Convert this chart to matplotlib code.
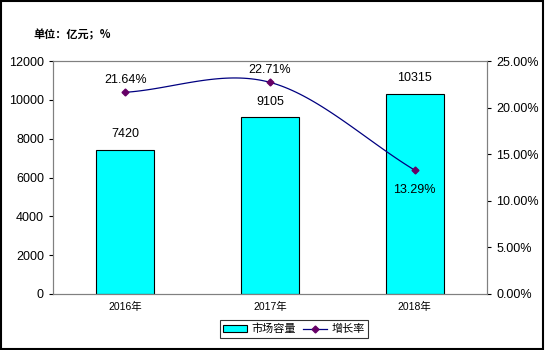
import matplotlib
matplotlib.use("Agg")
import matplotlib.pyplot as plt
import numpy as np
from matplotlib.lines import Line2D
from matplotlib.patches import Patch

plt.rcParams['font.family'] = ['Liberation Sans', 'Noto Sans CJK SC', 'DejaVu Sans']

years = ["2016年", "2017年", "2018年"]
capacity = [7420, 9105, 10315]          # 市场容量（亿元）
growth = [21.64, 22.71, 13.29]          # 增长率（%）


def smooth_curve(x, y, n=40):
    # Catmull-Rom style smoothing through the points
    x = np.asarray(x, float)
    y = np.asarray(y, float)
    px = np.concatenate([[2 * x[0] - x[1]], x, [2 * x[-1] - x[-2]]])
    py = np.concatenate([[2 * y[0] - y[1]], y, [2 * y[-1] - y[-2]]])
    xs, ys = [], []
    for i in range(1, len(px) - 2):
        t = np.linspace(0, 1, n)
        for arr, out in ((px, xs), (py, ys)):
            p0, p1, p2, p3 = arr[i - 1], arr[i], arr[i + 1], arr[i + 2]
            out.extend(0.5 * ((2 * p1) + (-p0 + p2) * t
                              + (2 * p0 - 5 * p1 + 4 * p2 - p3) * t ** 2
                              + (-p0 + 3 * p1 - 3 * p2 + p3) * t ** 3))
    return np.array(xs), np.array(ys)


fig = plt.figure(figsize=(5.45, 3.5), dpi=100)
ax = fig.add_axes([53 / 545, 1 - 294 / 350, 434 / 545, 233 / 350])
x = np.arange(len(years))

ax.bar(x, capacity, width=0.4, color="#00FFFF", edgecolor="black", linewidth=0.8, zorder=2)
for xi, v in zip(x, capacity):
    ax.text(xi, v + 500, str(v), ha="center", va="bottom", fontsize=9)

ax.set_xlim(-0.5, 2.5)
ax.set_ylim(0, 12000)
ax.set_yticks(range(0, 12001, 2000))
ax.set_xticks(x)
ax.set_xticklabels(years, fontsize=7.5)
ax.tick_params(axis="y", labelsize=9, direction="out", length=3)
ax.tick_params(axis="x", length=0, pad=6)
for s in ax.spines.values():
    s.set_color("#808080")
    s.set_linewidth(0.8)

ax2 = ax.twinx()
ax2.set_ylim(0, 25)
ax2.set_yticks(np.arange(0, 25.1, 5))
ax2.set_yticklabels([f"{v:.2f}%" for v in np.arange(0, 25.1, 5)])
ax2.tick_params(axis="y", labelsize=9, direction="out", length=3)
for s in ax2.spines.values():
    s.set_color("#808080")
    s.set_linewidth(0.8)

sx, sy = smooth_curve(x, growth)
ax2.plot(sx, sy, color="#000080", linewidth=0.9, zorder=3)
ax2.plot(x, growth, linestyle="none", marker="D", markersize=3.5,
         color="#660066", zorder=4)
offsets = [(0, 9), (0, 9), (0, -14)]
for xi, g, (dx, dy) in zip(x, growth, offsets):
    ax2.annotate(f"{g:.2f}%", (xi, g), xytext=(dx, dy), textcoords="offset points",
                 ha="center", va="center", fontsize=9)

fig.text(33 / 545, 1 - 35 / 350, "单位：亿元；%", fontsize=8, fontweight="bold", va="center",
         family=["Noto Sans CJK SC", "DejaVu Sans"])

handles = [Patch(facecolor="#00FFFF", edgecolor="black", linewidth=0.8),
           Line2D([0], [0], color="#000080", linewidth=0.9, marker="D",
                  markersize=3.5, markerfacecolor="#660066", markeredgecolor="#660066")]
leg = fig.legend(handles, ["市场容量", "增长率"], loc="center",
                 bbox_to_anchor=(294 / 545, 1 - 329 / 350), ncol=2, fontsize=8,
                 frameon=True, fancybox=False, borderpad=0.3, handlelength=2.2,
                 handleheight=0.6, columnspacing=0.6, handletextpad=0.4)
leg.get_frame().set_edgecolor("black")
leg.get_frame().set_linewidth(0.8)

# outer border of the figure
fig.patches.append(plt.Rectangle((0.001, 0.003), 0.996, 0.995, transform=fig.transFigure,
                                 fill=False, edgecolor="black", linewidth=1.5))

fig.savefig("out.png", dpi=100)
